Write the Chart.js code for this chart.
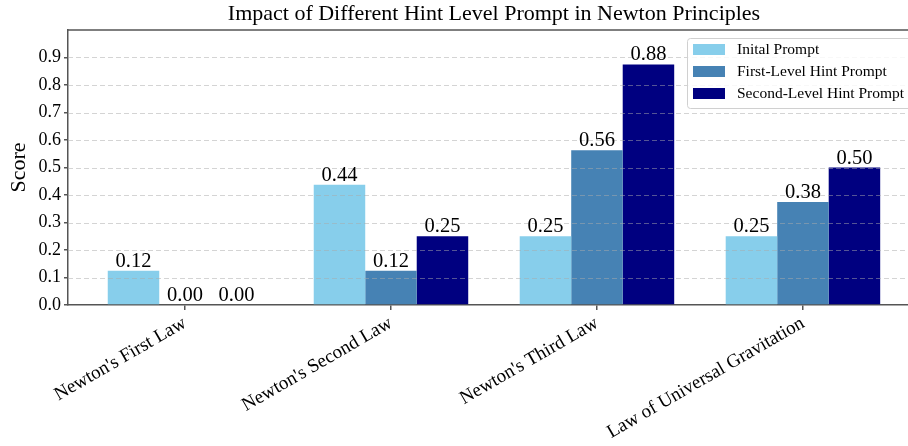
<!DOCTYPE html>
<html lang="en">
<head>
  <meta charset="UTF-8">
  <title>Impact of Different Hint Level Prompt in Newton Principles</title>
  <script src="https://cdn.jsdelivr.net/npm/chart.js"></script>
  <style>
    body { margin: 0; background: #fff; }
    #wrap { width: 908px; height: 446px; }
  </style>
</head>
<body>
  <div id="wrap"><canvas id="chart" width="908" height="446"></canvas></div>

  <script>
    const categories = ["Newton's First Law", "Newton's Second Law", "Newton's Third Law", 'Law of Universal Gravitation'];
    const initialPrompt = [0.125, 0.4375, 0.25, 0.25];
    const firstLevelHint = [0.0, 0.125, 0.5625, 0.375];
    const secondLevelHint = [0.0, 0.25, 0.875, 0.5];
    const seriesNames = ['Inital Prompt', 'First-Level Hint Prompt', 'Second-Level Hint Prompt'];
    const yTicks = [0, 0.1, 0.2, 0.3, 0.4, 0.5, 0.6, 0.7, 0.8, 0.9];

    const SERIF = '"Liberation Serif", "Times New Roman", serif';
    const colors = ['#87CEEB', '#4682B4', '#000080'];
    const axisColor = '#555';

    // python-style rounding (half to even) for the bar labels
    function fmt2(v) {
      const s = v * 100;
      const f = Math.floor(s + 1e-9);
      let n;
      if (Math.abs(s - f - 0.5) < 1e-9) n = (f % 2 === 0) ? f : f + 1;
      else n = Math.round(s);
      return (n / 100).toFixed(2);
    }

    const toPoints = arr => arr.map((v, i) => ({ x: i, y: v }));

    const decorations = {
      id: 'decorations',
      afterDatasetsDraw(chart) {
        const { ctx, chartArea: a, scales: { y } } = chart;
        ctx.save();
        // dashed grid over the bars
        ctx.strokeStyle = 'rgba(170,170,170,0.5)';
        ctx.lineWidth = 1;
        ctx.setLineDash([5, 3]);
        yTicks.forEach(v => {
          if (v === 0) return;
          const py = Math.round(y.getPixelForValue(v)) + 0.5;
          ctx.beginPath();
          ctx.moveTo(a.left, py);
          ctx.lineTo(a.right, py);
          ctx.stroke();
        });
        ctx.setLineDash([]);

        // top spine
        ctx.strokeStyle = axisColor;
        ctx.lineWidth = 1.5;
        ctx.beginPath();
        ctx.moveTo(a.left, a.top);
        ctx.lineTo(a.right, a.top);
        ctx.stroke();

        // value labels
        ctx.fillStyle = '#000';
        ctx.font = '20.5px ' + SERIF;
        ctx.textAlign = 'center';
        ctx.textBaseline = 'alphabetic';
        chart.data.datasets.forEach((ds, di) => {
          chart.getDatasetMeta(di).data.forEach((bar, i) => {
            ctx.fillText(fmt2(ds.data[i].y), bar.x, bar.y - 4);
          });
        });
        ctx.restore();
      },
      afterDraw(chart) {
        const { ctx, chartArea: a } = chart;
        ctx.save();
        // title (axes run a little past the right edge of the picture)
        ctx.fillStyle = '#000';
        ctx.font = '22px ' + SERIF;
        ctx.textAlign = 'center';
        ctx.textBaseline = 'middle';
        ctx.fillText('Impact of Different Hint Level Prompt in Newton Principles', (a.left + a.right) / 2 + 6, 14);

        // y axis title
        ctx.translate(19, (a.top + a.bottom) / 2);
        ctx.rotate(-Math.PI / 2);
        ctx.fillText('Score', 0, 0);
        ctx.restore();

        // legend box
        ctx.save();
        const bx = 687, by = 38, bw = 230, bh = 70;
        ctx.fillStyle = 'rgba(255,255,255,0.85)';
        ctx.strokeStyle = '#d0d0d0';
        ctx.lineWidth = 1;
        ctx.beginPath();
        ctx.roundRect(bx + 0.5, by + 0.5, bw, bh, 3);
        ctx.fill();
        ctx.stroke();
        ctx.font = '15.5px ' + SERIF;
        ctx.textAlign = 'left';
        ctx.textBaseline = 'middle';
        chart.data.datasets.forEach((ds, i) => {
          const ry = 50 + i * 22;
          ctx.fillStyle = ds.backgroundColor;
          ctx.fillRect(693, ry - 6, 32, 11);
          ctx.fillStyle = '#000';
          ctx.fillText(ds.label, 737, ry);
        });
        ctx.restore();
      }
    };

    new Chart(document.getElementById('chart'), {
      type: 'bar',
      data: {
        datasets: [
          { label: seriesNames[0], data: toPoints(initialPrompt), backgroundColor: colors[0] },
          { label: seriesNames[1], data: toPoints(firstLevelHint), backgroundColor: colors[1] },
          { label: seriesNames[2], data: toPoints(secondLevelHint), backgroundColor: colors[2] }
        ]
      },
      options: {
        responsive: false,
        animation: false,
        layout: { padding: { top: 30, right: 0, bottom: 0, left: 0 } },
        datasets: { bar: { categoryPercentage: 0.75, barPercentage: 1.0, borderWidth: 0 } },
        plugins: {
          legend: { display: false },
          tooltip: { enabled: false },
          title: { display: false }
        },
        scales: {
          x: {
            type: 'linear',
            min: -0.568,
            max: 3.51,
            offset: false,
            afterBuildTicks: s => { s.ticks = categories.map((c, i) => ({ value: i })); },
            afterFit: s => { s.height = 141; },
            grid: { offset: false, drawOnChartArea: false, tickColor: axisColor, tickLength: 5, lineWidth: 1.5 },
            border: { color: axisColor, width: 1.5 },
            ticks: {
              autoSkip: false,
              minRotation: 30,
              maxRotation: 30,
              padding: 2,
              color: '#000',
              font: { family: SERIF, size: 19 },
              callback: (v) => categories[v]
            }
          },
          y: {
            min: 0,
            max: 1.0,
            afterBuildTicks: s => { s.ticks = yTicks.map(v => ({ value: v })); },
            afterFit: s => { s.width = 68; },
            grid: { drawOnChartArea: false, tickColor: axisColor, tickLength: 4, lineWidth: 1.5 },
            border: { color: axisColor, width: 1.5 },
            ticks: {
              padding: 3,
              color: '#000',
              font: { family: SERIF, size: 18 },
              callback: v => v.toFixed(1)
            }
          }
        }
      },
      plugins: [decorations]
    });
  </script>
</body>
</html>
